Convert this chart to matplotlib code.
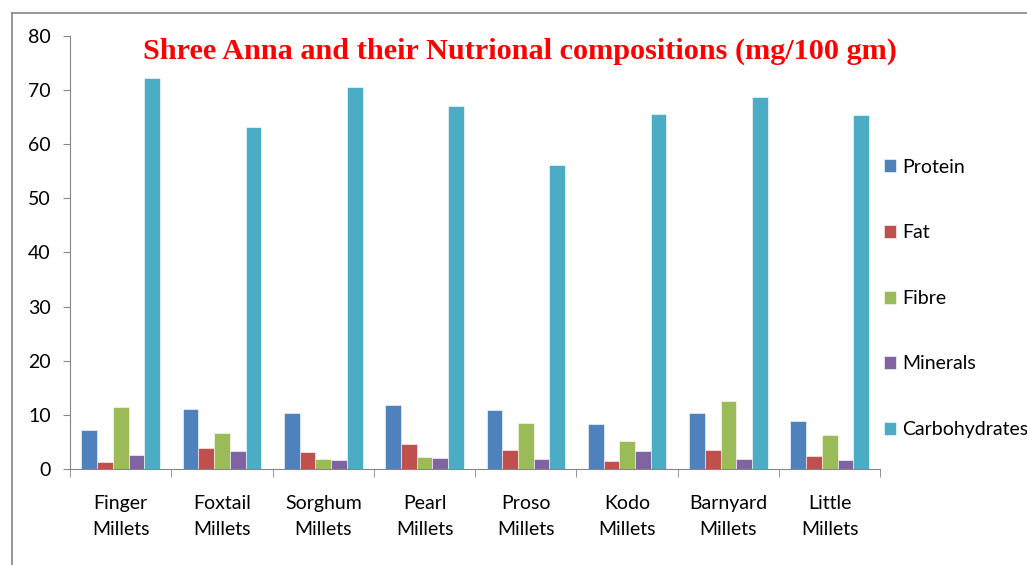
import matplotlib.pyplot as plt
import numpy as np
from matplotlib.lines import Line2D

# data
millets = ['Finger\nMillets', 'Foxtail\nMillets', 'Sorghum\nMillets', 'Pearl\nMillets',
           'Proso\nMillets', 'Kodo\nMillets', 'Barnyard\nMillets', 'Little\nMillets']
protein = [7.2, 11.1, 10.3, 11.8, 10.9, 8.3, 10.4, 8.8]
fat = [1.3, 3.9, 3.1, 4.7, 3.5, 1.4, 3.5, 2.4]
fibre = [11.4, 6.6, 1.9, 2.2, 8.4, 5.1, 12.5, 6.3]
minerals = [2.6, 3.3, 1.6, 2.1, 1.8, 3.3, 1.9, 1.7]
carbs = [72.3, 63.2, 70.6, 67.1, 56.2, 65.6, 68.8, 65.4]

series = [('Protein', protein, '#4F81BD'), ('Fat', fat, '#C0504D'),
          ('Fibre', fibre, '#9BBB59'), ('Minerals', minerals, '#8064A2'),
          ('Carbohydrates', carbs, '#4BACC6')]

plt.rcParams['font.family'] = ['Lato', 'DejaVu Sans']

fig = plt.figure(figsize=(10.27, 5.65), dpi=100)
ax = fig.add_axes([0.0682, 0.170, 0.789, 0.7664])

x = np.arange(len(millets))
w = 0.155
for i, (name, vals, col) in enumerate(series):
    ax.bar(x + (i - 2) * w, vals, w, color=col, edgecolor='white', linewidth=0.4, label=name)

ax.set_xlim(-0.5, len(millets) - 0.5)
ax.set_ylim(0, 80)
ax.set_yticks(range(0, 81, 10))
ax.set_xticks(x)
ax.set_xticklabels(millets, fontsize=14)
for t in ax.get_xticklabels():
    t.set_linespacing(1.6)
ax.set_xticks(np.arange(-0.5, len(millets)), minor=True)
ax.tick_params(axis='x', which='major', length=0, pad=19)
ax.tick_params(axis='x', which='minor', length=6, color='#868686', direction='out')
ax.tick_params(axis='y', length=5, color='#868686', labelsize=14, pad=9)

for s in ['top', 'right']:
    ax.spines[s].set_visible(False)
for s in ['left', 'bottom']:
    ax.spines[s].set_color('#868686')

fig.text(0.139, 0.91, 'Shree Anna and their Nutrional compositions (mg/100 gm)',
         color='red', fontsize=21.8, fontweight='bold', family='Liberation Serif',
         va='center', ha='left')

leg = fig.legend(loc='upper left', bbox_to_anchor=(0.853, 0.733), frameon=False,
                 fontsize=14, handlelength=0.65, handleheight=0.65,
                 handletextpad=0.3, labelspacing=2.5, borderaxespad=0)

# outer chart border
fig.add_artist(Line2D([12 / 1027, 1], [1 - 13 / 565, 1 - 13 / 565], color='#868686', lw=1.2,
                      transform=fig.transFigure))
fig.add_artist(Line2D([12 / 1027, 12 / 1027], [0, 1 - 13 / 565], color='#868686', lw=1.2,
                      transform=fig.transFigure))

fig.savefig('out.png', dpi=100)
